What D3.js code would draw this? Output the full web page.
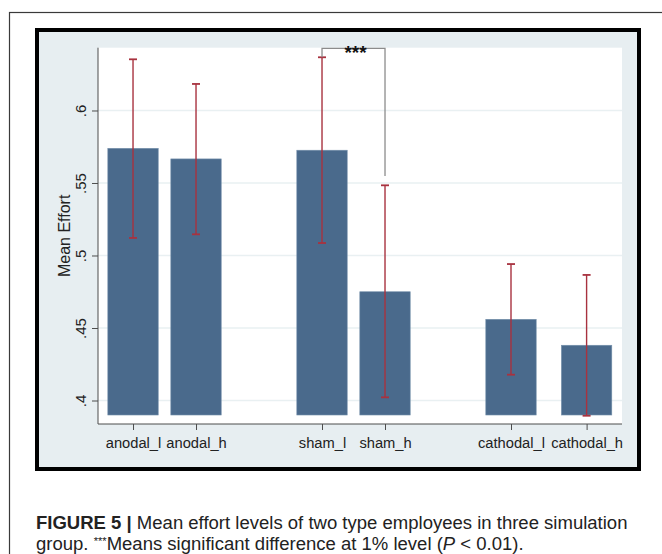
<!DOCTYPE html>
<html>
<head>
<meta charset="utf-8">
<script src="https://cdn.jsdelivr.net/npm/d3@7/dist/d3.min.js"></script>
<style>
  html, body { margin: 0; padding: 0; background: #ffffff; }
  svg { display: block; }
</style>
</head>
<body>
<div id="chart"></div>
<script>
// ---------------- data ----------------
const categories = ["anodal_l", "anodal_h", "sham_l", "sham_h", "cathodal_l", "cathodal_h"];
const xPos       = [1, 2, 4, 5, 7, 8.2];              // x values of the bars (twoway bar)
const means      = [0.5739, 0.5666, 0.5726, 0.4750, 0.4560, 0.4381];
const ciLow      = [0.5121, 0.5146, 0.5086, 0.4022, 0.4178, 0.3895];
const ciHigh     = [0.6353, 0.6183, 0.6367, 0.5484, 0.4941, 0.4866];
const barBase    = 0.39;
const yTicks     = [0.4, 0.45, 0.5, 0.55, 0.6];
const yTickLabels = [".4", ".45", ".5", ".55", ".6"];
const yTitle     = "Mean Effort";
const bracket    = { from: "sham_l", to: "sham_h", top: 0.6429, leftEnd: 0.6367, rightEnd: 0.5548, label: "***" };
const captionBold = "FIGURE 5 |";
const captionLine1 = " Mean effort levels of two type employees in three simulation";
const captionLine2 = ["group. ", "***", "Means significant difference at 1% level (", "P", " < 0.01)."];

// ---------------- layout ----------------
const W = 662, H = 554;
const svg = d3.select("#chart").append("svg").attr("width", W).attr("height", H);

// outer thin border
svg.append("rect").attr("x", 9.5).attr("y", 12.5).attr("width", 700).attr("height", 600)
  .attr("fill", "#ffffff").attr("stroke", "#3a3a3a").attr("stroke-width", 1.2);

// graph region (light bluish) with thick black frame
svg.append("rect").attr("x", 37).attr("y", 30).attr("width", 602).attr("height", 439)
  .attr("fill", "#e7eef1").attr("stroke", "#000000").attr("stroke-width", 4);

const plot = { left: 98, right: 622, top: 47.7, bottom: 424 };

const x = d3.scaleLinear().domain([0.444, 8.762]).range([plot.left, plot.right]);
const y = d3.scaleLinear().domain([0.3838, 0.6433]).range([plot.bottom, plot.top]);

// plot region
svg.append("rect").attr("x", plot.left).attr("y", plot.top)
  .attr("width", plot.right - plot.left).attr("height", plot.bottom - plot.top)
  .attr("fill", "#ffffff");

// gridlines
svg.append("g").selectAll("line").data(yTicks).join("line")
  .attr("x1", plot.left).attr("x2", plot.right)
  .attr("y1", d => y(d)).attr("y2", d => y(d))
  .attr("stroke", "#e9f0f2").attr("stroke-width", 1.3);

const data = categories.map((c, i) => ({ c, x: xPos[i], m: means[i], lo: ciLow[i], hi: ciHigh[i] }));
const bw = x(0.8) - x(0);

// bars
svg.append("g").selectAll("rect").data(data).join("rect")
  .attr("x", d => x(d.x) - bw / 2)
  .attr("width", bw)
  .attr("y", d => y(d.m))
  .attr("height", d => y(barBase) - y(d.m))
  .attr("fill", "#4a6a8c")
  .attr("stroke", "#7590ab").attr("stroke-width", 0.6);

// error bars
const eb = svg.append("g").attr("stroke", "#a8323f").attr("stroke-width", 1.4).attr("fill", "none");
eb.selectAll("line.v").data(data).join("line").attr("class", "v")
  .attr("x1", d => x(d.x)).attr("x2", d => x(d.x))
  .attr("y1", d => y(d.lo)).attr("y2", d => y(d.hi));
eb.selectAll("line.t").data(data).join("line").attr("class", "t")
  .attr("x1", d => x(d.x) - 4).attr("x2", d => x(d.x) + 4)
  .attr("y1", d => y(d.hi)).attr("y2", d => y(d.hi)).attr("stroke-width", 1.8);
eb.selectAll("line.b").data(data).join("line").attr("class", "b")
  .attr("x1", d => x(d.x) - 4).attr("x2", d => x(d.x) + 4)
  .attr("y1", d => y(d.lo)).attr("y2", d => y(d.lo)).attr("stroke-width", 1.8);

// axes
const font = "'Liberation Sans', Arial, sans-serif";
const yAxis = svg.append("g").attr("transform", `translate(${plot.left},0)`)
  .call(d3.axisLeft(y).tickValues(yTicks).tickSize(6).tickFormat((d, i) => yTickLabels[i]));
yAxis.select(".domain").attr("stroke", "#4d4d4d").attr("stroke-width", 1)
  .attr("d", `M0,${plot.bottom}V${plot.top}`);
yAxis.selectAll(".tick line").attr("stroke", "#4d4d4d");
yAxis.selectAll(".tick text")
  .attr("font-family", font).attr("font-size", 15).attr("fill", "#222")
  .attr("text-anchor", "middle").attr("dy", null).attr("x", null)
  .attr("transform", "translate(-12,0) rotate(-90)");

const xAxis = svg.append("g").attr("transform", `translate(0,${plot.bottom})`)
  .call(d3.axisBottom(x).tickValues(xPos).tickSize(6).tickFormat((d, i) => categories[i]));
xAxis.select(".domain").attr("stroke", "#4d4d4d").attr("stroke-width", 1)
  .attr("d", `M${plot.left},0H${plot.right}`);
xAxis.selectAll(".tick line").attr("stroke", "#4d4d4d");
xAxis.selectAll(".tick text")
  .attr("font-family", font).attr("font-size", 14.7).attr("fill", "#222")
  .attr("y", 24).attr("dy", null);

// y title
svg.append("text")
  .attr("transform", `translate(70,${(plot.top + plot.bottom) / 2}) rotate(-90)`)
  .attr("text-anchor", "middle")
  .attr("font-family", font).attr("font-size", 16).attr("fill", "#222")
  .text(yTitle);

// significance bracket
const bi = categories.indexOf(bracket.from), bj = categories.indexOf(bracket.to);
const bx1 = x(xPos[bi]), bx2 = x(xPos[bj]);
svg.append("path")
  .attr("d", `M${bx1},${y(bracket.leftEnd)}V${y(bracket.top)}H${bx2}V${y(bracket.rightEnd)}`)
  .attr("fill", "none").attr("stroke", "#8c8c8c").attr("stroke-width", 1.3);
svg.append("text")
  .attr("x", (bx1 + bx2) / 2 + 2).attr("y", y(bracket.top) + 11)
  .attr("text-anchor", "middle")
  .attr("font-family", font).attr("font-size", 19).attr("font-weight", "bold").attr("fill", "#111")
  .text(bracket.label);

// caption
const capFont = "'Liberation Sans', Arial, sans-serif";
const cap1 = svg.append("text").attr("x", 36).attr("y", 529)
  .attr("font-family", capFont).attr("font-size", 17).attr("fill", "#222");
cap1.append("tspan").attr("font-weight", "bold").text(captionBold);
cap1.append("tspan").text(captionLine1);
const w1 = cap1.node().getComputedTextLength();
const fs = 17 * 592 / w1;
cap1.attr("font-size", fs);

const cap2 = svg.append("text").attr("x", 36).attr("y", 550)
  .attr("font-family", capFont).attr("font-size", fs).attr("fill", "#222");
cap2.append("tspan").text(captionLine2[0]);
cap2.append("tspan").attr("font-size", fs * 0.6).attr("dy", -5).text(captionLine2[1]);
cap2.append("tspan").attr("dy", 5).text(captionLine2[2]);
cap2.append("tspan").attr("font-style", "italic").text(captionLine2[3]);
cap2.append("tspan").text(captionLine2[4]);
</script>
</body>
</html>
